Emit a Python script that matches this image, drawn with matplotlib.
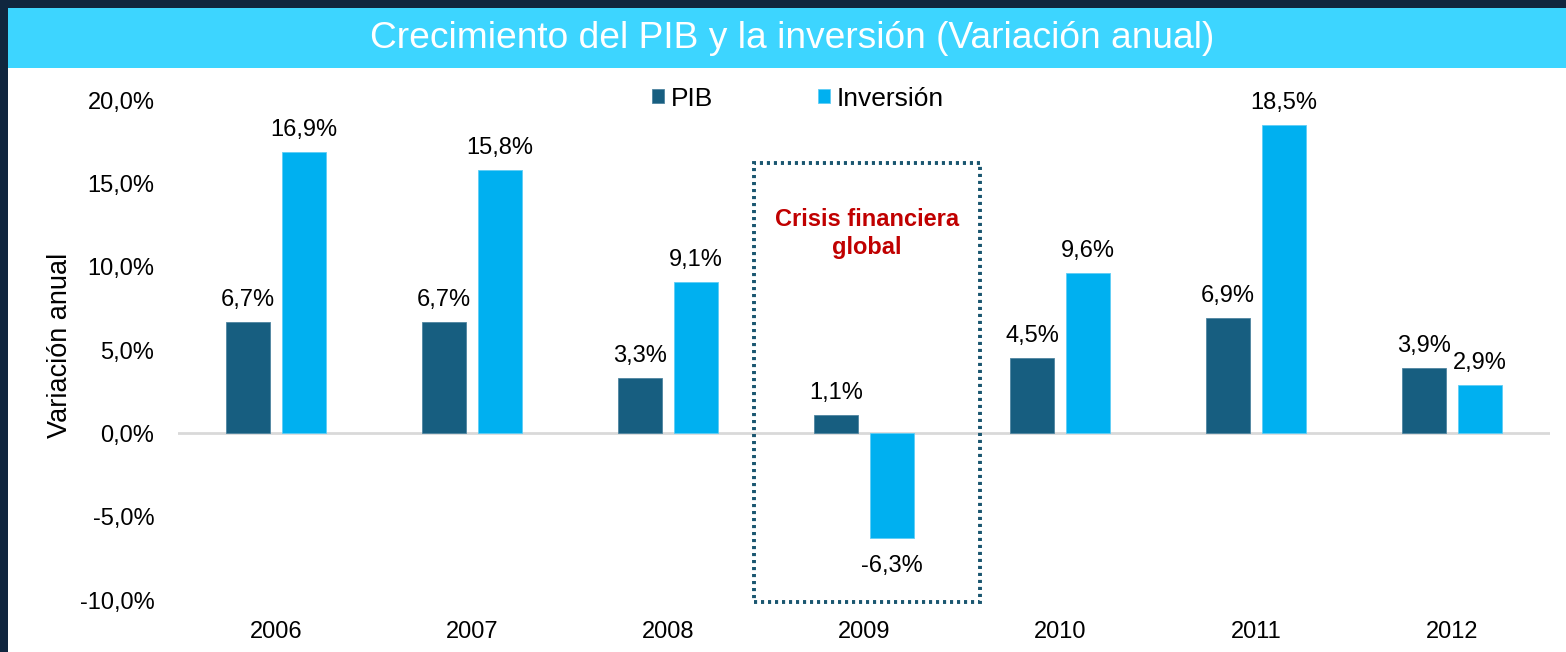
import matplotlib
matplotlib.use("Agg")
import matplotlib.pyplot as plt
from matplotlib.patches import Rectangle
import numpy as np

years = ["2006", "2007", "2008", "2009", "2010", "2011", "2012"]
pib = [6.7, 6.7, 3.3, 1.1, 4.5, 6.9, 3.9]
inversion = [16.9, 15.8, 9.1, -6.3, 9.6, 18.5, 2.9]
yticks = [-10, -5, 0, 5, 10, 15, 20]

title = "Crecimiento del PIB y la inversión (Variación anual)"
ylabel = "Variación anual"
crisis_text = "Crisis financiera\nglobal"

C_PIB = "#175e80"
C_INV = "#00b0f0"
NAVY = "#10263f"
CYAN = "#3dd5ff"

plt.rcParams['font.family'] = ['Liberation Sans', 'DejaVu Sans']

W, H = 1566, 652
fig = plt.figure(figsize=(W / 100, H / 100), dpi=100, facecolor=NAVY)

def fx(px):
    return px / W

def fy(py):
    return 1 - py / H

# white panel and cyan title bar
fig.patches.append(Rectangle((fx(8), 0), 1 - fx(8), fy(68), transform=fig.transFigure,
                             facecolor="white", edgecolor="none", zorder=-10))
fig.patches.append(Rectangle((fx(8), fy(68)), 1 - fx(8), fy(8) - fy(68), transform=fig.transFigure,
                             facecolor=CYAN, edgecolor="none", zorder=-10))
fig.text(fx(792), fy(38), title, color="white", fontsize=26.7, ha="center", va="center")

ax = fig.add_axes([fx(178), fy(600), fx(1550) - fx(178), fy(100) - fy(600)])
ax.set_facecolor("none")
ax.set_zorder(5)

x = np.arange(len(years))
w = 0.225
off = 0.143
b1 = ax.bar(x - off, pib, w, color=C_PIB, edgecolor="#4f85a0", linewidth=0.6, label="PIB", zorder=3)
b2 = ax.bar(x + off, inversion, w, color=C_INV, edgecolor="#5fcdf5", linewidth=0.6, label="Inversión", zorder=3)

def fmt(v):
    return f"{v:.1f}%".replace(".", ",")

for bars, vals in ((b1, pib), (b2, inversion)):
    for rect, v in zip(bars, vals):
        cx = rect.get_x() + rect.get_width() / 2
        if v >= 0:
            ax.annotate(fmt(v), (cx, v), xytext=(0, 8), textcoords="offset points",
                        ha="center", va="bottom", fontsize=17, color="black", annotation_clip=False)
        else:
            ax.annotate(fmt(v), (cx, v), xytext=(0, -12), textcoords="offset points",
                        ha="center", va="top", fontsize=17, color="black", annotation_clip=False)

ax.axhline(0, color="#d9d9d9", lw=2, zorder=2)

ax.set_xlim(-0.5, len(years) - 0.5)
ax.set_ylim(-10, 20)
ax.set_yticks(yticks)
ax.set_yticklabels([fmt(t) for t in yticks])
ax.set_xticks(x)
ax.set_xticklabels(years)
ax.tick_params(axis="both", length=0, labelsize=17, colors="black")
ax.tick_params(axis="y", pad=17)
ax.tick_params(axis="x", pad=15)
for s in ax.spines.values():
    s.set_visible(False)

fig.text(fx(60), fy(345), ylabel, rotation=90, fontsize=19.5, ha="center", va="center")

# crisis box
box = Rectangle((2.44, -10.1), 1.15, 26.3, fill=False, edgecolor="#1a5670", lw=2.8,
                linestyle=(0, (0.8, 1.0)), zorder=4, clip_on=False)
ax.add_patch(box)
ax.text(3.015, 12.0, crisis_text, ha="center", va="center", fontsize=17, fontweight="bold",
        color="#c00000", linespacing=1.3)

leg = ax.legend(loc="center", bbox_to_anchor=(0.452, 1.003), ncol=2, frameon=False, fontsize=19,
                handlelength=0.45, handleheight=0.45, columnspacing=4.0, handletextpad=0.25,
                borderpad=0, borderaxespad=0)

fig.savefig("out.png", dpi=100, facecolor=NAVY)
